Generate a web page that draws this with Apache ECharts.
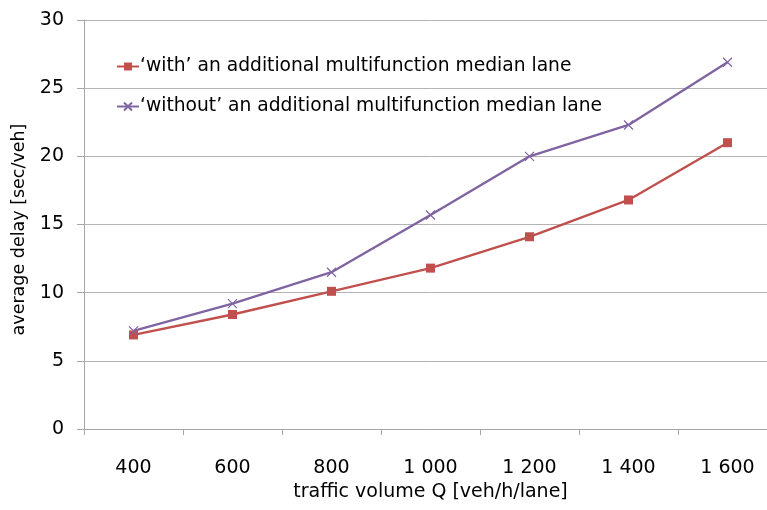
<!DOCTYPE html>
<html><head><meta charset="utf-8">
<script src="https://cdn.jsdelivr.net/npm/echarts@6/dist/echarts.min.js"></script>
<style>html,body{margin:0;padding:0;background:#fff;overflow:hidden}#c{width:777px;height:510px}</style>
</head><body><div id="c"></div>
<script>
var categories = ['400','600','800','1 000','1 200','1 400','1 600'];
var withLane = [6.9, 8.4, 10.1, 11.8, 14.1, 16.8, 21.0];
var withoutLane = [7.2, 9.2, 11.5, 15.7, 20.0, 22.3, 26.9];
var seriesNames = ["\u2018with\u2019 an additional multifunction median lane", "\u2018without\u2019 an additional multifunction median lane"];
var FONT = '"DejaVu Sans", sans-serif';
var chart = echarts.init(document.getElementById('c'));
chart.setOption({
  animation: false,
  backgroundColor: '#fff',
  textStyle: {fontFamily: FONT},
  grid: {left: 84, right: 0, top: 20, bottom: 81, containLabel: false},
  legend: {
    orient: 'vertical', left: 111, top: 52, itemGap: 21, itemWidth: 22, itemHeight: 10,
    textStyle: {fontFamily: FONT, fontSize: 18.7, color: '#000', padding: [0,0,0,-4]},
    data: seriesNames
  },
  xAxis: {
    type: 'category', data: categories, boundaryGap: true,
    name: 'traffic volume Q [veh/h/lane]', nameLocation: 'middle', nameGap: 54,
    nameTextStyle: {fontFamily: FONT, fontSize: 19, color: '#000'},
    axisLine: {lineStyle: {color: '#A6A6A6'}},
    axisTick: {show: true, length: 6, lineStyle: {color: '#A6A6A6'}},
    axisLabel: {fontFamily: FONT, fontSize: 19, color: '#000', margin: 30}
  },
  yAxis: {
    type: 'value', min: 0, max: 30, interval: 5,
    name: 'average delay [sec/veh]', nameLocation: 'middle', nameGap: 50,
    nameTextStyle: {fontFamily: FONT, fontSize: 17.5, color: '#000', padding: [0, 10, 0, 0]},
    axisLine: {show: true, lineStyle: {color: '#A6A6A6'}},
    axisTick: {show: true, length: 7, lineStyle: {color: '#A6A6A6'}},
    axisLabel: {fontFamily: FONT, fontSize: 19, color: '#000', margin: 20},
    splitLine: {lineStyle: {color: '#B3B3B3'}}
  },
  series: [
    {name: seriesNames[0], type: 'line', data: withLane, symbol: 'rect', symbolSize: 9,
     lineStyle: {color: '#C0504D', width: 2.4}, itemStyle: {color: '#C0504D'}},
    {name: seriesNames[1], type: 'line', data: withoutLane, symbol: 'path://M0,0L10,10M10,0L0,10', symbolSize: 9,
     lineStyle: {color: '#8064A2', width: 2.4}, itemStyle: {color: 'none', borderColor: '#8064A2', borderWidth: 1.2}}
  ]
});
</script></body></html>
